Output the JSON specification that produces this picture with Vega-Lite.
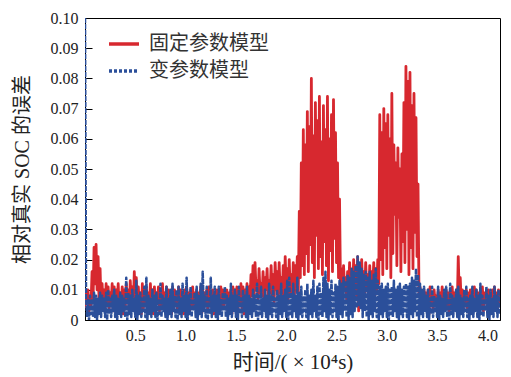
{
"$schema":"https://vega.github.io/schema/vega-lite/v6.json",
"width":415,"height":302,
"autosize":{"type":"none"},
"padding":{"left":85,"top":18,"right":11,"bottom":57},
"background":"white",
"config":{
"view":{"stroke":"#000","strokeWidth":1},
"axis":{"grid":false,"domainColor":"#000","tickColor":"#000","labelColor":"#222","titleColor":"#222","labelFont":"Liberation Serif","titleFont":"Liberation Serif, Noto Sans CJK SC","labelFontSize":16,"titleFontSize":20,"titleFontWeight":"normal","tickSize":-7,"labelPadding":14},
"legend":{"orient":"none","legendX":22,"legendY":9,"symbolType":"stroke","symbolSize":900,"symbolStrokeWidth":3.5,"labelFontSize":20,"labelFont":"Liberation Serif, Noto Sans CJK SC","labelColor":"#333","rowPadding":-6,"labelOffset":8}
},
"data":{"values":[
{"t":0,"a":0.004,"b":0.1},{"t":0.01,"a":0.009,"b":0.008},{"t":0.02,"a":0.006,"b":0.001},{"t":0.03,"a":0.010,"b":0.007},{"t":0.04,"a":0.003,"b":0},{"t":0.05,"a":0.008,"b":0.008},{"t":0.06,"a":0.005,"b":0.002},{"t":0.07,"a":0.016,"b":0.007},{"t":0.08,"a":0.006,"b":0.001},{"t":0.09,"a":0.024,"b":0.009},
{"t":0.1,"a":0.012,"b":0.001},{"t":0.11,"a":0.025,"b":0.008},{"t":0.12,"a":0.010,"b":0},{"t":0.13,"a":0.021,"b":0.007},{"t":0.14,"a":0.006,"b":0.002},{"t":0.15,"a":0.017,"b":0.009},{"t":0.16,"a":0.004,"b":0.001},{"t":0.17,"a":0.012,"b":0.008},{"t":0.18,"a":0.005,"b":0.003},{"t":0.19,"a":0.010,"b":0.007},
{"t":0.2,"a":0.003,"b":0.001},{"t":0.21,"a":0.012,"b":0.009},{"t":0.22,"a":0.005,"b":0},{"t":0.23,"a":0.011,"b":0.010},{"t":0.24,"a":0.004,"b":0.002},{"t":0.25,"a":0.009,"b":0.007},{"t":0.26,"a":0.006,"b":0.001},{"t":0.27,"a":0.012,"b":0.008},{"t":0.28,"a":0.003,"b":0.003},{"t":0.29,"a":0.011,"b":0.010},
{"t":0.3,"a":0.004,"b":0.001},{"t":0.31,"a":0.010,"b":0.008},{"t":0.32,"a":0.006,"b":0},{"t":0.33,"a":0.012,"b":0.007},{"t":0.34,"a":0.003,"b":0.002},{"t":0.35,"a":0.009,"b":0.009},{"t":0.36,"a":0.005,"b":0.001},{"t":0.37,"a":0.011,"b":0.008},{"t":0.38,"a":0.002,"b":0.003},{"t":0.39,"a":0.010,"b":0.007},
{"t":0.4,"a":0.004,"b":0.001},{"t":0.41,"a":0.012,"b":0.014},{"t":0.42,"a":0.006,"b":0},{"t":0.43,"a":0.010,"b":0.009},{"t":0.44,"a":0.003,"b":0.002},{"t":0.45,"a":0.013,"b":0.008},{"t":0.46,"a":0.005,"b":0.001},{"t":0.47,"a":0.011,"b":0.010},{"t":0.48,"a":0.004,"b":0.003},{"t":0.49,"a":0.016,"b":0.007},
{"t":0.5,"a":0.006,"b":0.001},{"t":0.51,"a":0.014,"b":0.013},{"t":0.52,"a":0.003,"b":0},{"t":0.53,"a":0.011,"b":0.008},{"t":0.54,"a":0.005,"b":0.002},{"t":0.55,"a":0.009,"b":0.009},{"t":0.56,"a":0.002,"b":0.001},{"t":0.57,"a":0.012,"b":0.007},{"t":0.58,"a":0.004,"b":0.003},{"t":0.59,"a":0.010,"b":0.011},
{"t":0.6,"a":0.006,"b":0.001},{"t":0.61,"a":0.011,"b":0.014},{"t":0.62,"a":0.003,"b":0},{"t":0.63,"a":0.009,"b":0.008},{"t":0.64,"a":0.005,"b":0.002},{"t":0.65,"a":0.012,"b":0.007},{"t":0.66,"a":0.004,"b":0.001},{"t":0.67,"a":0.010,"b":0.010},{"t":0.68,"a":0.002,"b":0.003},{"t":0.69,"a":0.011,"b":0.008},
{"t":0.7,"a":0.004,"b":0.001},{"t":0.71,"a":0.009,"b":0.009},{"t":0.72,"a":0.006,"b":0},{"t":0.73,"a":0.011,"b":0.007},{"t":0.74,"a":0.003,"b":0.002},{"t":0.75,"a":0.010,"b":0.012},{"t":0.76,"a":0.005,"b":0.001},{"t":0.77,"a":0.012,"b":0.008},{"t":0.78,"a":0.004,"b":0.003},{"t":0.79,"a":0.009,"b":0.007},
{"t":0.8,"a":0.006,"b":0.001},{"t":0.81,"a":0.011,"b":0.011},{"t":0.82,"a":0.003,"b":0},{"t":0.83,"a":0.010,"b":0.007},{"t":0.84,"a":0.005,"b":0.002},{"t":0.85,"a":0.009,"b":0.010},{"t":0.86,"a":0.002,"b":0.001},{"t":0.87,"a":0.011,"b":0.012},{"t":0.88,"a":0.004,"b":0.003},{"t":0.89,"a":0.010,"b":0.008},
{"t":0.9,"a":0.006,"b":0.001},{"t":0.91,"a":0.009,"b":0.010},{"t":0.92,"a":0.003,"b":0},{"t":0.93,"a":0.011,"b":0.011},{"t":0.94,"a":0.005,"b":0.002},{"t":0.95,"a":0.010,"b":0.007},{"t":0.96,"a":0.004,"b":0.001},{"t":0.97,"a":0.009,"b":0.012},{"t":0.98,"a":0.002,"b":0.003},{"t":0.99,"a":0.010,"b":0.008},
{"t":1,"a":0.004,"b":0.001},{"t":1.01,"a":0.011,"b":0.014},{"t":1.02,"a":0.006,"b":0},{"t":1.03,"a":0.009,"b":0.008},{"t":1.04,"a":0.003,"b":0.002},{"t":1.05,"a":0.010,"b":0.011},{"t":1.06,"a":0.005,"b":0.001},{"t":1.07,"a":0.011,"b":0.007},{"t":1.08,"a":0.004,"b":0.003},{"t":1.09,"a":0.009,"b":0.009},
{"t":1.1,"a":0.006,"b":0.001},{"t":1.11,"a":0.010,"b":0.011},{"t":1.12,"a":0.003,"b":0},{"t":1.13,"a":0.009,"b":0.008},{"t":1.14,"a":0.005,"b":0.002},{"t":1.15,"a":0.011,"b":0.012},{"t":1.16,"a":0.002,"b":0.001},{"t":1.17,"a":0.010,"b":0.016},{"t":1.18,"a":0.004,"b":0.003},{"t":1.19,"a":0.009,"b":0.008},
{"t":1.2,"a":0.006,"b":0.001},{"t":1.21,"a":0.010,"b":0.011},{"t":1.22,"a":0.003,"b":0},{"t":1.23,"a":0.011,"b":0.007},{"t":1.24,"a":0.005,"b":0.002},{"t":1.25,"a":0.009,"b":0.014},{"t":1.26,"a":0.004,"b":0.001},{"t":1.27,"a":0.010,"b":0.008},{"t":1.28,"a":0.002,"b":0.003},{"t":1.29,"a":0.009,"b":0.011},
{"t":1.3,"a":0.004,"b":0.001},{"t":1.31,"a":0.010,"b":0.008},{"t":1.32,"a":0.006,"b":0},{"t":1.33,"a":0.009,"b":0.011},{"t":1.34,"a":0.003,"b":0.002},{"t":1.35,"a":0.011,"b":0.007},{"t":1.36,"a":0.005,"b":0.001},{"t":1.37,"a":0.010,"b":0.009},{"t":1.38,"a":0.004,"b":0.003},{"t":1.39,"a":0.009,"b":0.011},
{"t":1.4,"a":0.006,"b":0.001},{"t":1.41,"a":0.010,"b":0.008},{"t":1.42,"a":0.003,"b":0},{"t":1.43,"a":0.009,"b":0.007},{"t":1.44,"a":0.005,"b":0.002},{"t":1.45,"a":0.010,"b":0.012},{"t":1.46,"a":0.002,"b":0.001},{"t":1.47,"a":0.011,"b":0.008},{"t":1.48,"a":0.004,"b":0.003},{"t":1.49,"a":0.010,"b":0.010},
{"t":1.5,"a":0.006,"b":0.001},{"t":1.51,"a":0.011,"b":0.008},{"t":1.52,"a":0.003,"b":0},{"t":1.53,"a":0.010,"b":0.011},{"t":1.54,"a":0.005,"b":0.002},{"t":1.55,"a":0.012,"b":0.007},{"t":1.56,"a":0.004,"b":0.001},{"t":1.57,"a":0.011,"b":0.010},{"t":1.58,"a":0.002,"b":0.003},{"t":1.59,"a":0.010,"b":0.008},
{"t":1.6,"a":0.004,"b":0.001},{"t":1.61,"a":0.012,"b":0.011},{"t":1.62,"a":0.006,"b":0},{"t":1.63,"a":0.011,"b":0.008},{"t":1.64,"a":0.007,"b":0.002},{"t":1.65,"a":0.015,"b":0.007},{"t":1.66,"a":0.008,"b":0.001},{"t":1.67,"a":0.018,"b":0.010},{"t":1.68,"a":0.006,"b":0.003},{"t":1.69,"a":0.019,"b":0.008},
{"t":1.7,"a":0.010,"b":0.001},{"t":1.71,"a":0.013,"b":0.012},{"t":1.72,"a":0.007,"b":0},{"t":1.73,"a":0.017,"b":0.008},{"t":1.74,"a":0.009,"b":0.002},{"t":1.75,"a":0.012,"b":0.011},{"t":1.76,"a":0.008,"b":0.001},{"t":1.77,"a":0.016,"b":0.007},{"t":1.78,"a":0.006,"b":0.003},{"t":1.79,"a":0.014,"b":0.010},
{"t":1.8,"a":0.010,"b":0.001},{"t":1.81,"a":0.017,"b":0.008},{"t":1.82,"a":0.007,"b":0},{"t":1.83,"a":0.013,"b":0.012},{"t":1.84,"a":0.009,"b":0.002},{"t":1.85,"a":0.018,"b":0.008},{"t":1.86,"a":0.008,"b":0.001},{"t":1.87,"a":0.015,"b":0.011},{"t":1.88,"a":0.006,"b":0.003},{"t":1.89,"a":0.019,"b":0.007},
{"t":1.9,"a":0.010,"b":0.001},{"t":1.91,"a":0.016,"b":0.010},{"t":1.92,"a":0.007,"b":0},{"t":1.93,"a":0.019,"b":0.008},{"t":1.94,"a":0.009,"b":0.002},{"t":1.95,"a":0.014,"b":0.012},{"t":1.96,"a":0.008,"b":0.001},{"t":1.97,"a":0.018,"b":0.008},{"t":1.98,"a":0.006,"b":0.003},{"t":1.99,"a":0.021,"b":0.010},
{"t":2,"a":0.010,"b":0.001},{"t":2.01,"a":0.017,"b":0.013},{"t":2.02,"a":0.007,"b":0},{"t":2.03,"a":0.020,"b":0.014},{"t":2.04,"a":0.009,"b":0.002},{"t":2.05,"a":0.015,"b":0.009},{"t":2.06,"a":0.008,"b":0.001},{"t":2.07,"a":0.019,"b":0.012},{"t":2.08,"a":0.006,"b":0.003},{"t":2.09,"a":0.018,"b":0.008},
{"t":2.1,"a":0.010,"b":0.001},{"t":2.11,"a":0.021,"b":0.014},{"t":2.12,"a":0.009,"b":0},{"t":2.13,"a":0.036,"b":0.009},{"t":2.14,"a":0.014,"b":0.002},{"t":2.15,"a":0.052,"b":0.011},{"t":2.16,"a":0.018,"b":0.001},{"t":2.17,"a":0.063,"b":0.008},{"t":2.18,"a":0.015,"b":0.003},{"t":2.19,"a":0.058,"b":0.010},
{"t":2.2,"a":0.022,"b":0.001},{"t":2.21,"a":0.069,"b":0.012},{"t":2.22,"a":0.016,"b":0},{"t":2.23,"a":0.064,"b":0.008},{"t":2.24,"a":0.025,"b":0.002},{"t":2.25,"a":0.080,"b":0.010},{"t":2.26,"a":0.019,"b":0.001},{"t":2.27,"a":0.061,"b":0.013},{"t":2.28,"a":0.014,"b":0.003},{"t":2.29,"a":0.072,"b":0.008},
{"t":2.3,"a":0.028,"b":0.001},{"t":2.31,"a":0.066,"b":0.011},{"t":2.32,"a":0.017,"b":0},{"t":2.33,"a":0.074,"b":0.012},{"t":2.34,"a":0.021,"b":0.002},{"t":2.35,"a":0.059,"b":0.009},{"t":2.36,"a":0.015,"b":0.001},{"t":2.37,"a":0.071,"b":0.014},{"t":2.38,"a":0.026,"b":0.003},{"t":2.39,"a":0.063,"b":0.016},
{"t":2.4,"a":0.018,"b":0.001},{"t":2.41,"a":0.074,"b":0.012},{"t":2.42,"a":0.013,"b":0},{"t":2.43,"a":0.060,"b":0.010},{"t":2.44,"a":0.023,"b":0.002},{"t":2.45,"a":0.068,"b":0.013},{"t":2.46,"a":0.016,"b":0.001},{"t":2.47,"a":0.073,"b":0.009},{"t":2.48,"a":0.027,"b":0.003},{"t":2.49,"a":0.062,"b":0.012},
{"t":2.5,"a":0.019,"b":0.001},{"t":2.51,"a":0.052,"b":0.011},{"t":2.52,"a":0.014,"b":0},{"t":2.53,"a":0.040,"b":0.013},{"t":2.54,"a":0.010,"b":0.002},{"t":2.55,"a":0.017,"b":0.012},{"t":2.56,"a":0.008,"b":0.001},{"t":2.57,"a":0.018,"b":0.014},{"t":2.58,"a":0.010,"b":0.003},{"t":2.59,"a":0.014,"b":0.013},
{"t":2.6,"a":0.007,"b":0.001},{"t":2.61,"a":0.016,"b":0.015},{"t":2.62,"a":0.009,"b":0},{"t":2.63,"a":0.019,"b":0.014},{"t":2.64,"a":0.011,"b":0.002},{"t":2.65,"a":0.015,"b":0.017},{"t":2.66,"a":0.008,"b":0.001},{"t":2.67,"a":0.020,"b":0.016},{"t":2.68,"a":0.010,"b":0.003},{"t":2.69,"a":0.018,"b":0.018},
{"t":2.7,"a":0.007,"b":0.004},{"t":2.71,"a":0.021,"b":0.021},{"t":2.72,"a":0.003,"b":0.005},{"t":2.73,"a":0.017,"b":0.019},{"t":2.74,"a":0.009,"b":0.004},{"t":2.75,"a":0.020,"b":0.017},{"t":2.76,"a":0.011,"b":0.001},{"t":2.77,"a":0.016,"b":0.015},{"t":2.78,"a":0.008,"b":0.003},{"t":2.79,"a":0.019,"b":0.016},
{"t":2.8,"a":0.010,"b":0.001},{"t":2.81,"a":0.015,"b":0.014},{"t":2.82,"a":0.007,"b":0},{"t":2.83,"a":0.018,"b":0.016},{"t":2.84,"a":0.009,"b":0.002},{"t":2.85,"a":0.016,"b":0.013},{"t":2.86,"a":0.011,"b":0.001},{"t":2.87,"a":0.019,"b":0.015},{"t":2.88,"a":0.008,"b":0.003},{"t":2.89,"a":0.017,"b":0.017},
{"t":2.9,"a":0.010,"b":0.001},{"t":2.91,"a":0.020,"b":0.013},{"t":2.92,"a":0.012,"b":0},{"t":2.93,"a":0.068,"b":0.011},{"t":2.94,"a":0.020,"b":0.002},{"t":2.95,"a":0.062,"b":0.012},{"t":2.96,"a":0.015,"b":0.001},{"t":2.97,"a":0.070,"b":0.010},{"t":2.98,"a":0.024,"b":0.003},{"t":2.99,"a":0.065,"b":0.011},
{"t":3,"a":0.017,"b":0.001},{"t":3.01,"a":0.068,"b":0.012},{"t":3.02,"a":0.028,"b":0},{"t":3.03,"a":0.060,"b":0.010},{"t":3.04,"a":0.014,"b":0.002},{"t":3.05,"a":0.075,"b":0.011},{"t":3.06,"a":0.022,"b":0.001},{"t":3.07,"a":0.058,"b":0.013},{"t":3.08,"a":0.035,"b":0.003},{"t":3.09,"a":0.052,"b":0.010},
{"t":3.1,"a":0.018,"b":0.001},{"t":3.11,"a":0.057,"b":0.011},{"t":3.12,"a":0.034,"b":0},{"t":3.13,"a":0.050,"b":0.012},{"t":3.14,"a":0.016,"b":0.002},{"t":3.15,"a":0.055,"b":0.010},{"t":3.16,"a":0.026,"b":0.001},{"t":3.17,"a":0.072,"b":0.011},{"t":3.18,"a":0.019,"b":0.003},{"t":3.19,"a":0.084,"b":0.012},
{"t":3.2,"a":0.030,"b":0.001},{"t":3.21,"a":0.079,"b":0.011},{"t":3.22,"a":0.015,"b":0},{"t":3.23,"a":0.082,"b":0.012},{"t":3.24,"a":0.024,"b":0.002},{"t":3.25,"a":0.071,"b":0.014},{"t":3.26,"a":0.017,"b":0.001},{"t":3.27,"a":0.075,"b":0.013},{"t":3.28,"a":0.029,"b":0.003},{"t":3.29,"a":0.067,"b":0.017},
{"t":3.3,"a":0.021,"b":0.001},{"t":3.31,"a":0.045,"b":0.015},{"t":3.32,"a":0.008,"b":0},{"t":3.33,"a":0.011,"b":0.012},{"t":3.34,"a":0.005,"b":0.002},{"t":3.35,"a":0.009,"b":0.010},{"t":3.36,"a":0.003,"b":0.001},{"t":3.37,"a":0.010,"b":0.011},{"t":3.38,"a":0.006,"b":0.003},{"t":3.39,"a":0.009,"b":0.008},
{"t":3.4,"a":0.004,"b":0.001},{"t":3.41,"a":0.010,"b":0.010},{"t":3.42,"a":0.002,"b":0},{"t":3.43,"a":0.011,"b":0.007},{"t":3.44,"a":0.005,"b":0.002},{"t":3.45,"a":0.009,"b":0.011},{"t":3.46,"a":0.003,"b":0.001},{"t":3.47,"a":0.010,"b":0.008},{"t":3.48,"a":0.006,"b":0.003},{"t":3.49,"a":0.008,"b":0.007},
{"t":3.5,"a":0.004,"b":0.001},{"t":3.51,"a":0.010,"b":0.011},{"t":3.52,"a":0.002,"b":0},{"t":3.53,"a":0.009,"b":0.008},{"t":3.54,"a":0.005,"b":0.002},{"t":3.55,"a":0.011,"b":0.007},{"t":3.56,"a":0.003,"b":0.001},{"t":3.57,"a":0.009,"b":0.010},{"t":3.58,"a":0.006,"b":0.003},{"t":3.59,"a":0.010,"b":0.011},
{"t":3.6,"a":0.004,"b":0.001},{"t":3.61,"a":0.009,"b":0.007},{"t":3.62,"a":0.002,"b":0},{"t":3.63,"a":0.010,"b":0.012},{"t":3.64,"a":0.005,"b":0.002},{"t":3.65,"a":0.011,"b":0.008},{"t":3.66,"a":0.003,"b":0.001},{"t":3.67,"a":0.009,"b":0.007},{"t":3.68,"a":0.006,"b":0.003},{"t":3.69,"a":0.010,"b":0.010},
{"t":3.7,"a":0.004,"b":0.001},{"t":3.71,"a":0.021,"b":0.011},{"t":3.72,"a":0.008,"b":0},{"t":3.73,"a":0.014,"b":0.008},{"t":3.74,"a":0.005,"b":0.002},{"t":3.75,"a":0.010,"b":0.007},{"t":3.76,"a":0.003,"b":0.001},{"t":3.77,"a":0.009,"b":0.010},{"t":3.78,"a":0.006,"b":0.003},{"t":3.79,"a":0.010,"b":0.011},
{"t":3.8,"a":0.004,"b":0.001},{"t":3.81,"a":0.009,"b":0.007},{"t":3.82,"a":0.002,"b":0},{"t":3.83,"a":0.010,"b":0.008},{"t":3.84,"a":0.005,"b":0.002},{"t":3.85,"a":0.009,"b":0.011},{"t":3.86,"a":0.003,"b":0.001},{"t":3.87,"a":0.011,"b":0.007},{"t":3.88,"a":0.006,"b":0.003},{"t":3.89,"a":0.010,"b":0.010},
{"t":3.9,"a":0.004,"b":0.001},{"t":3.91,"a":0.009,"b":0.008},{"t":3.92,"a":0.002,"b":0},{"t":3.93,"a":0.010,"b":0.012},{"t":3.94,"a":0.005,"b":0.002},{"t":3.95,"a":0.011,"b":0.008},{"t":3.96,"a":0.003,"b":0.001},{"t":3.97,"a":0.009,"b":0.007},{"t":3.98,"a":0.006,"b":0.003},{"t":3.99,"a":0.010,"b":0.011},
{"t":4,"a":0.004,"b":0.001},{"t":4.01,"a":0.010,"b":0.008},{"t":4.02,"a":0.002,"b":0},{"t":4.03,"a":0.009,"b":0.010},{"t":4.04,"a":0.005,"b":0.002},{"t":4.05,"a":0.010,"b":0.007},{"t":4.06,"a":0.003,"b":0.001},{"t":4.07,"a":0.011,"b":0.011},{"t":4.08,"a":0.006,"b":0.003},{"t":4.09,"a":0.009,"b":0.008},
{"t":4.1,"a":0.004,"b":0.001},{"t":4.11,"a":0.010,"b":0.010},{"t":4.12,"a":0.005,"b":0.002}
]},
"encoding":{
"x":{"field":"t","type":"quantitative","scale":{"domain":[0,4.125],"nice":false},"axis":{"values":[0.5,1,1.5,2,2.5,3,3.5,4],"format":".1f","title":"时间/( × 10⁴s)","titlePadding":8,"titleFontSize":21}}
},
"layer":[
{"mark":{"type":"line","strokeWidth":2.8,"strokeJoin":"round","clip":true},
"encoding":{
"y":{"field":"a","type":"quantitative","scale":{"domain":[0,0.1],"nice":false},"axis":{"values":[0,0.01,0.02,0.03,0.04,0.05,0.06,0.07,0.08,0.09,0.1],"labelExpr":"datum.value == 0 ? '0' : format(datum.value, '.2f')","title":"相对真实 SOC 的误差","titlePadding":18}},
"color":{"datum":"固定参数模型","type":"nominal","scale":{"domain":["固定参数模型","变参数模型"],"range":["#d7282f","#2b4f9a"]},"legend":{"title":null,"encode":{"symbols":{"update":{"strokeDash":{"signal":"datum.value === '变参数模型' ? [3,2] : [40,0]"}}}}}}
}},
{"mark":{"type":"line","strokeWidth":2.5,"strokeDash":[5,1],"strokeJoin":"round","clip":true},
"encoding":{
"y":{"field":"b","type":"quantitative","axis":{"values":[0,0.01,0.02,0.03,0.04,0.05,0.06,0.07,0.08,0.09,0.1],"labelExpr":"datum.value == 0 ? '0' : format(datum.value, '.2f')","title":"相对真实 SOC 的误差","titlePadding":18}},
"color":{"datum":"变参数模型","type":"nominal"}
}}
]
}
